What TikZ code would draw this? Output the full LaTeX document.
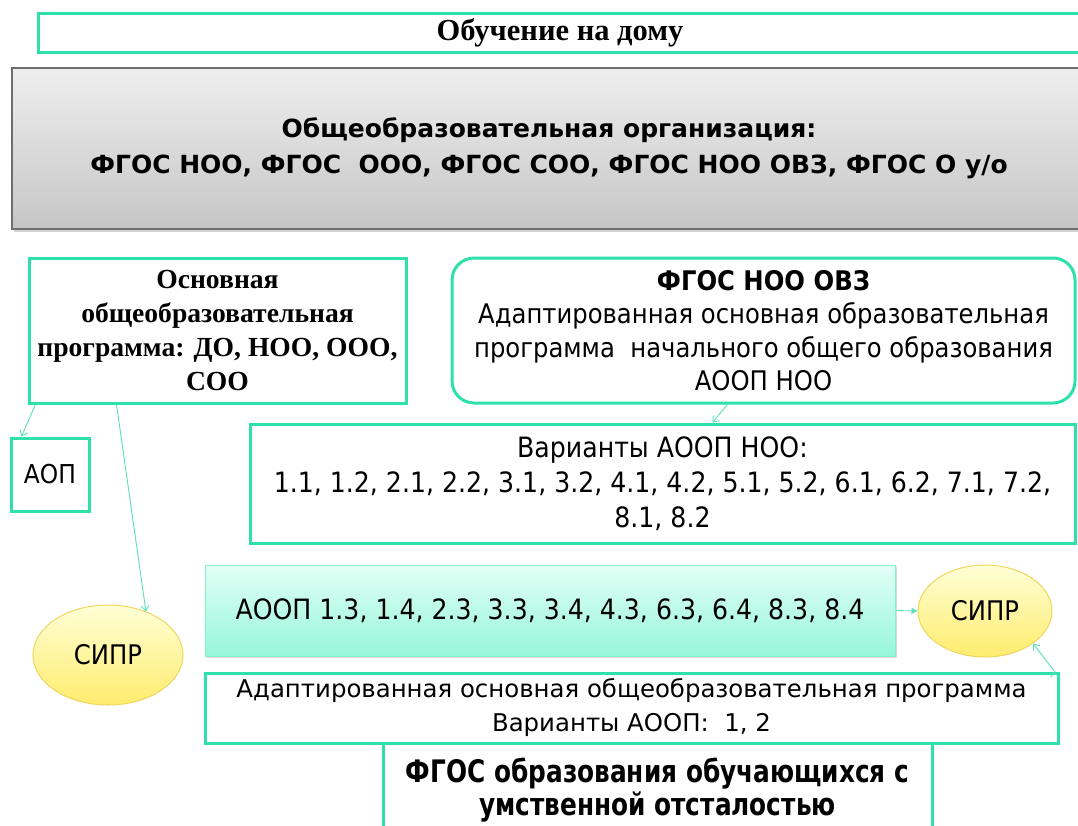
\documentclass[tikz,border=0pt]{standalone}
\usepackage{fontspec}
\setmainfont{Liberation Serif}
\setsansfont{DejaVu Sans}
\newfontfamily\plainsans[FakeStretch=0.9]{DejaVu Sans}
\newfontfamily\narrowsans[FakeStretch=0.8]{DejaVu Sans}
\usetikzlibrary{shapes.geometric,shadows,arrows.meta}
\definecolor{mintline}{RGB}{46,224,170}
\definecolor{mintarrow}{RGB}{90,224,186}
\definecolor{mintlight}{RGB}{226,255,246}
\definecolor{mintdark}{RGB}{150,246,216}
\definecolor{sunlight}{RGB}{255,255,214}
\definecolor{sundark}{RGB}{255,236,110}
\definecolor{sunline}{RGB}{238,214,96}
\definecolor{greylight}{RGB}{238,238,238}
\definecolor{greydark}{RGB}{198,198,198}
\definecolor{greyline}{RGB}{110,110,110}

\begin{document}
\begin{tikzpicture}[x=1pt,y=-1pt,
    box/.style = {draw=mintline, line width=3pt, fill=white, align=center, inner sep=0pt},
    sipr/.style = {ellipse, draw=sunline, line width=1pt, top color=sunlight, bottom color=sundark,
                   inner sep=0pt, font=\plainsans\fontsize{27}{30}\selectfont},
    conn/.style = {draw=mintarrow, line width=0.9pt, -{Straight Barb[length=5pt,width=8pt]}}]
    \useasboundingbox (0,0) rectangle (1078,825);
    \clip (0,0) rectangle (1078,825);
    % top
    \node[box, minimum width=1044pt, minimum height=39pt,
          font=\bfseries\fontsize{30.5}{32}\selectfont] (home) at (560,32.5) {Обучение на дому};
    \node[draw=greyline, line width=1.2pt, top color=greylight, bottom color=greydark,
          drop shadow={shadow xshift=2pt, shadow yshift=-3pt, opacity=0.35},
          minimum width=1074pt, minimum height=161pt, align=center, inner sep=0pt,
          font=\sffamily\bfseries\fontsize{25}{35}\selectfont] (org) at (549,148.5)
          {Общеобразовательная организация:\\[1pt]ФГОС НОО, ФГОС~~ООО, ФГОС СОО, ФГОС НОО ОВЗ, ФГОС О у/о};
    % middle row
    \node[box, minimum width=377pt, minimum height=145pt,
          font=\bfseries\fontsize{27.6}{34}\selectfont] (osn) at (217.5,330.5)
          {Основная\\общеобразовательная\\программа: ДО, НОО, ООО,\\СОО};
    \node[box, rounded corners=22pt, minimum width=623pt, minimum height=145pt,
          font=\plainsans\fontsize{27}{33.5}\selectfont] (ovz) at (763.5,330.5)
          {\textbf{ФГОС НОО ОВЗ}\\Адаптированная основная образовательная\\программа~~начального общего образования\\АООП НОО};
    \node[box, minimum width=825pt, minimum height=119pt,
          font=\plainsans\fontsize{28}{35}\selectfont] (var) at (662.5,483.5)
          {Варианты АООП НОО:\\1.1, 1.2, 2.1, 2.2, 3.1, 3.2, 4.1, 4.2, 5.1, 5.2, 6.1, 6.2, 7.1, 7.2,\\8.1, 8.2};
    \node[box, minimum width=78pt, minimum height=73pt,
          font=\plainsans\fontsize{26}{28}\selectfont] (aop) at (50,474.5) {АОП};
    % lower part
    \node[sipr, minimum width=150pt, minimum height=100pt] (sipr1) at (108,655) {СИПР};
    \node[draw=mintdark!80!mintline, line width=1pt, top color=mintlight, bottom color=mintdark,
          drop shadow={shadow xshift=2pt, shadow yshift=-2pt, opacity=0.3},
          minimum width=690pt, minimum height=91pt, inner sep=0pt,
          font=\plainsans\fontsize{28}{30}\selectfont] (aoop) at (550,610.5)
          {АООП 1.3, 1.4, 2.3, 3.3, 3.4, 4.3, 6.3, 6.4, 8.3, 8.4};
    \node[sipr, minimum width=134pt, minimum height=92pt] (sipr2) at (985,611) {СИПР};
    \node[box, minimum width=853pt, minimum height=70pt,
          font=\sffamily\fontsize{24.4}{34}\selectfont] (adapt) at (631.5,708)
          {Адаптированная основная общеобразовательная программа\\Варианты АООП:~~1, 2};
    \node[box, minimum width=549pt, minimum height=94pt,
          font=\narrowsans\bfseries\fontsize{31}{33}\selectfont] (uo) at (657.5,790)
          {ФГОС образования обучающихся с\\умственной отсталостью};
    % connectors
    \path[conn]
        ([xshift=8pt]osn.south west) edge ([xshift=12pt]aop.north west)
        ([xshift=89pt]osn.south west) edge (sipr1.49)
        ([xshift=-36pt]ovz.south) edge ([xshift=50pt]var.north)
        ([xshift=-5pt]adapt.north east) edge (sipr2.-34);
    \draw[draw=mintarrow, line width=0.9pt, -{Triangle[length=6pt,width=6pt]}] (aoop.east) -- (sipr2.west);
\end{tikzpicture}
\end{document}
